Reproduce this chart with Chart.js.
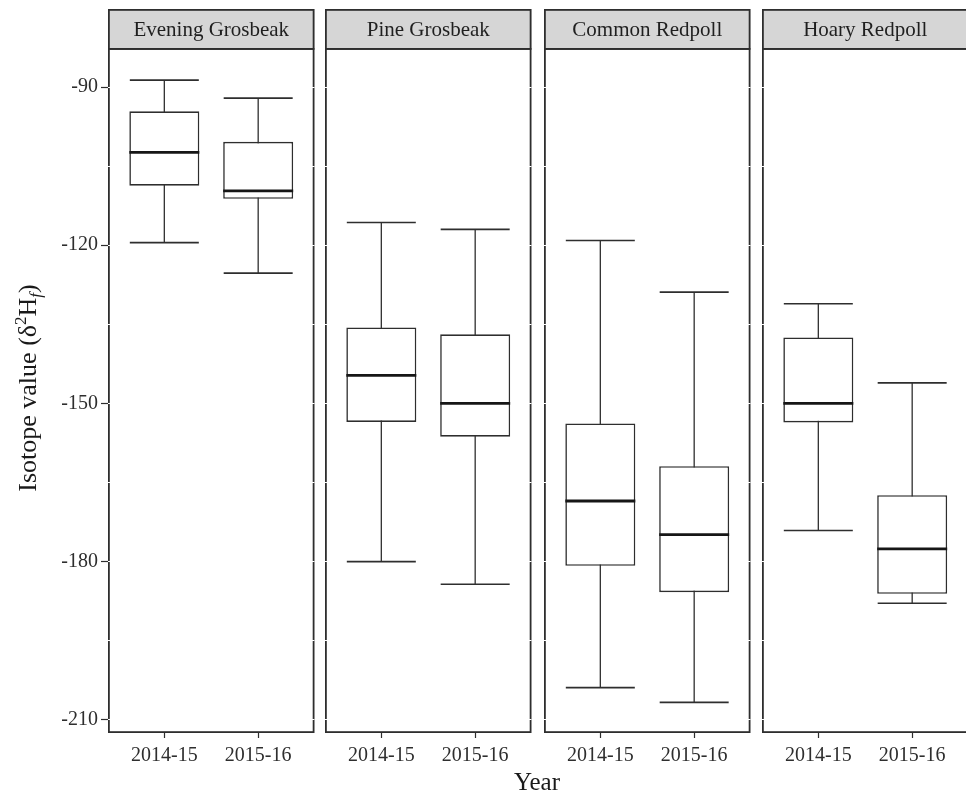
<!DOCTYPE html>
<html>
<head>
<meta charset="utf-8">
<script src="https://cdn.jsdelivr.net/npm/chart.js@4.4.1/dist/chart.umd.min.js"></script>
<style>
  html, body { margin: 0; padding: 0; background: #fff; overflow: hidden; }
  #wrap { position: relative; width: 966px; height: 794px; overflow: hidden; background: #fff; }
  #wrap canvas { position: absolute; left: 0; top: 0; width: 972px; height: 794px; }
</style>
</head>
<body>
<div id="wrap">
  <canvas id="panel0" width="972" height="794" style="width:972px;height:794px"></canvas>
  <canvas id="panel1" width="972" height="794" style="width:972px;height:794px"></canvas>
  <canvas id="panel2" width="972" height="794" style="width:972px;height:794px"></canvas>
  <canvas id="panel3" width="972" height="794" style="width:972px;height:794px"></canvas>
</div>
<script>
// Facets and groups
const species = ['Evening Grosbeak', 'Pine Grosbeak', 'Common Redpoll', 'Hoary Redpoll'];
const years = ['2014-15', '2015-16'];

// Box-plot summaries of δ2H_f, one [2014-15, 2015-16] pair per species
const whiskerLow  = [[-119.5, -125.3], [-180.0, -184.3], [-203.9, -206.7], [-174.1, -187.9]];
const quartile1   = [[-108.7, -111.2], [-153.5, -156.3], [-180.8, -185.8], [-153.6, -186.1]];
const medians     = [[-102.4, -109.7], [-144.7, -150.0], [-168.5, -174.9], [-150.0, -177.6]];
const quartile3   = [[ -94.6, -100.4], [-135.6, -136.9], [-153.8, -161.9], [-137.5, -167.4]];
const whiskerHigh = [[ -88.7,  -92.1], [-115.7, -117.0], [-119.1, -128.9], [-131.1, -146.1]];

// Axis ticks
const yTickLabels = [-210, -180, -150, -120, -90];
const yMinorTicks = [-195, -165, -135, -105];
const yRange = [-212.5, -82.6];

// Panel geometry (canvas pixels)
const panelLeft = [108, 325, 544, 762];
const panelWidth = 206.5;
const CANVAS_H = 794;
const STRIP_TOP = 9, PANEL_TOP = 48, PANEL_BOTTOM = 733;

const SERIF = "'Liberation Serif', 'Times New Roman', Times, serif";
const INK = '#2e2e2e';

Chart.defaults.font.family = SERIF;
Chart.defaults.color = INK;

// Strip header and panel frame, painted before the grid so the white
// grid lines notch the frame like the original theme
const facetFrame = {
  id: 'facetFrame',
  beforeDraw(chart, args, opts) {
    const { ctx, chartArea: a } = chart;
    ctx.save();
    ctx.fillStyle = '#d6d6d6';
    ctx.fillRect(a.left, STRIP_TOP, a.right - a.left, a.top - STRIP_TOP);
    ctx.strokeStyle = INK;
    ctx.lineWidth = 1.8;
    ctx.strokeRect(a.left + 0.9, STRIP_TOP + 0.9, a.right - a.left - 1.8, a.top - STRIP_TOP);
    ctx.strokeRect(a.left + 0.9, a.top + 0.9, a.right - a.left - 1.8, a.bottom - a.top - 1.8);
    ctx.fillStyle = '#1f1f1f';
    ctx.font = '21px ' + SERIF;
    ctx.textAlign = 'center';
    ctx.textBaseline = 'alphabetic';
    ctx.fillText(opts.title, (a.left + a.right) / 2, 36);
    ctx.restore();
  }
};

// Shared axis titles, drawn on the first panel's canvas
const axisTitles = {
  id: 'axisTitles',
  afterDraw(chart) {
    const ctx = chart.ctx;
    ctx.save();
    ctx.fillStyle = '#1a1a1a';
    ctx.textBaseline = 'alphabetic';
    // x title
    ctx.font = '25px ' + SERIF;
    ctx.textAlign = 'center';
    ctx.fillText('Year', 537, 790);
    // y title with superscript 2 and subscript f
    const parts = [
      { t: 'Isotope value (δ', f: '26px ' + SERIF, dy: 0 },
      { t: '2', f: '17px ' + SERIF, dy: -10 },
      { t: 'H', f: '26px ' + SERIF, dy: 0 },
      { t: 'f', f: 'italic 17px ' + SERIF, dy: 5 },
      { t: ')', f: '26px ' + SERIF, dy: 0 }
    ];
    let total = 0;
    parts.forEach(p => { ctx.font = p.f; p.w = ctx.measureText(p.t).width; total += p.w; });
    ctx.translate(36, 388);
    ctx.rotate(-Math.PI / 2);
    ctx.textAlign = 'left';
    let x = -total / 2;
    parts.forEach(p => { ctx.font = p.f; ctx.fillText(p.t, x, p.dy); x += p.w; });
    ctx.restore();
  }
};

function buildPanel(i) {
  const at = j => j + 1;
  const left = panelLeft[i];
  const right = left + panelWidth;
  const first = i === 0;
  const canvas = document.getElementById('panel' + i);

  const stems = years.map((y, j) => ({ x: at(j), y: [whiskerLow[i][j], whiskerHigh[i][j]] }));
  const boxes = years.map((y, j) => ({ x: at(j), y: [quartile1[i][j], quartile3[i][j]] }));
  const caps = years.flatMap((y, j) => [
    { x: at(j), y: whiskerLow[i][j] },
    { x: at(j), y: whiskerHigh[i][j] }
  ]);
  const mids = years.map((y, j) => ({ x: at(j), y: medians[i][j] }));

  return new Chart(canvas, {
    type: 'bar',
    data: {
      datasets: [
        { type: 'bar', label: 'whiskers', data: stems, backgroundColor: INK, borderWidth: 0,
          barThickness: 1.3, grouped: false, inflateAmount: 0, order: 3 },
        { type: 'bar', label: 'IQR', data: boxes, backgroundColor: '#ffffff', borderColor: INK,
          borderWidth: 1.6, borderSkipped: false, barThickness: 70, grouped: false,
          inflateAmount: 0, order: 2 },
        { type: 'line', label: 'whisker caps', data: caps, showLine: false, pointStyle: 'line',
          pointRadius: 34.5, pointBorderWidth: 1.6, pointBorderColor: INK, order: 1 },
        { type: 'line', label: 'median', data: mids, showLine: false, pointStyle: 'line',
          pointRadius: 35, pointBorderWidth: 2.8, pointBorderColor: '#161616', order: 0 }
      ]
    },
    options: {
      responsive: false,
      devicePixelRatio: 1,
      animation: false,
      events: [],
      layout: {
        autoPadding: false,
        padding: {
          left: first ? 0 : left,
          right: canvas.width - right,
          top: PANEL_TOP,
          bottom: 0
        }
      },
      plugins: {
        legend: { display: false },
        tooltip: { enabled: false },
        title: { display: false },
        facetFrame: { title: species[i] }
      },
      scales: {
        x: {
          type: 'linear',
          min: 0.4,
          max: 2.6,
          offset: false,
          afterFit(scale) {
            scale.height = CANVAS_H - PANEL_BOTTOM;
            scale.paddingLeft = 0;
            scale.paddingRight = 0;
          },
          afterBuildTicks(scale) { scale.ticks = years.map((y, j) => ({ value: at(j) })); },
          border: { display: false },
          grid: { drawOnChartArea: false, offset: false, drawTicks: true, tickLength: 5,
                  tickColor: INK, tickWidth: 1.2 },
          ticks: {
            callback: v => years[v - 1],
            font: { size: 20, family: SERIF },
            color: INK,
            padding: 6,
            maxRotation: 0
          }
        },
        y: {
          type: 'linear',
          min: yRange[0],
          max: yRange[1],
          afterFit(scale) {
            scale.width = first ? left : 0;
            scale.paddingTop = 0;
            scale.paddingBottom = 0;
          },
          afterBuildTicks(scale) {
            scale.ticks = yTickLabels.concat(yMinorTicks).sort((a, b) => a - b).map(v => ({ value: v }));
          },
          border: { display: false },
          grid: {
            color: '#ffffff',
            lineWidth: 1,
            drawTicks: first,
            tickLength: 7,
            tickWidth: 1.2,
            tickColor: c => (yTickLabels.includes(c.tick.value) ? INK : 'rgba(0,0,0,0)')
          },
          ticks: {
            display: first,
            callback: v => (yTickLabels.includes(v) ? String(v) : ''),
            font: { size: 20, family: SERIF },
            color: INK,
            padding: 3
          }
        }
      }
    },
    plugins: first ? [facetFrame, axisTitles] : [facetFrame]
  });
}

species.forEach((s, i) => buildPanel(i));
</script>
</body>
</html>
